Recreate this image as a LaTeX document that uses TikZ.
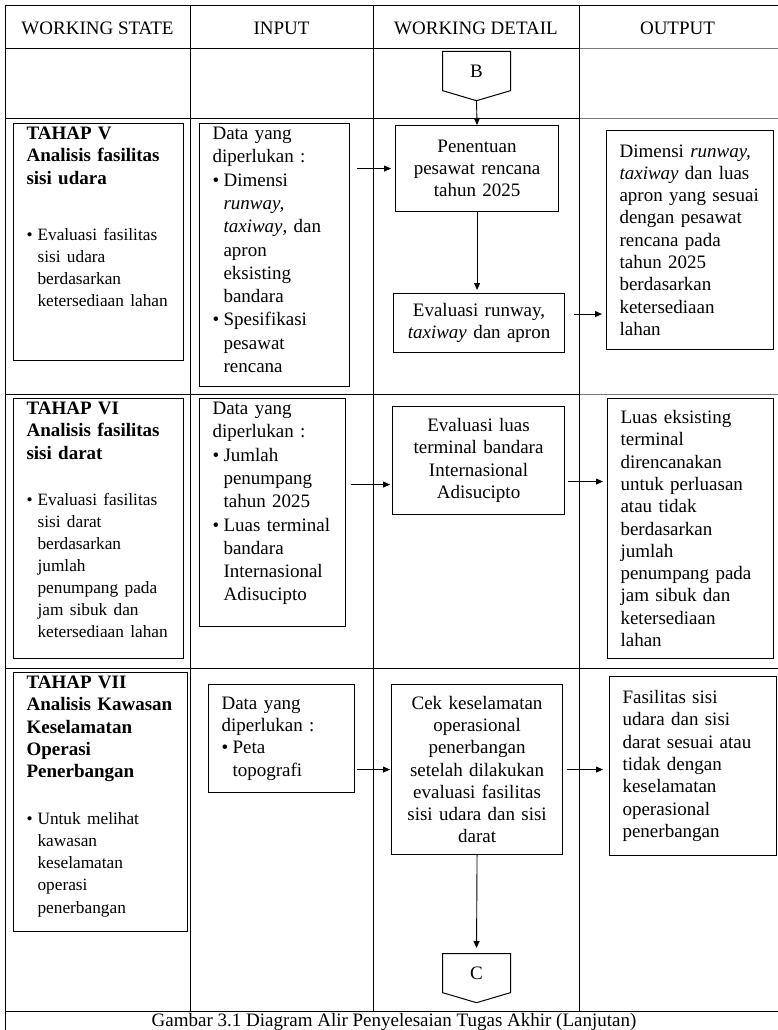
\documentclass[tikz,border=0pt]{standalone}
\usepackage{fontspec}
\setmainfont{Liberation Serif}
\usetikzlibrary{shapes, shapes.symbols, arrows.meta, positioning}
\definecolor{rulegray}{RGB}{120,120,120}
\newcommand{\bul}{\makebox[11pt][l]{\textbullet}}
\newcommand{\ind}{\hspace*{11pt}}
\newcommand{\smallfs}{\fontsize{17.3}{22}\selectfont}

\begin{document}
\begin{tikzpicture}[x=1pt, y=-1pt,
  font=\fontsize{19}{22.3}\selectfont,
  box/.style={draw, line width=1.1pt, anchor=north west, inner xsep=13pt, inner ysep=4pt},
  topbox/.style={box, align=left, text height=12pt},
  inbox/.style={topbox, font=\fontsize{19}{23.3}\selectfont},
  midbox/.style={box, align=center},
  leftbox/.style={box, align=left},
  conn/.style={signal, signal to=south, draw, line width=1pt, signal pointer angle=147, minimum width=68pt, minimum height=41pt, inner sep=0pt, anchor=north},
  arr/.style={-{Triangle[length=7pt,width=6pt]}, line width=0.9pt}]
  \useasboundingbox (0,0) rectangle (778,1030);
  \fill[white] (0,0) rectangle (778,1030);

  \draw[line width=0.9pt] (5,5) -- (778,5) (5,5) -- (5,1030);
  \draw[line width=0.9pt] (5,48) -- (579,48) (5,118) -- (579,118) (5,394) -- (579,394);
  \draw[line width=0.9pt, rulegray] (579,48) -- (778,48) (579,118) -- (778,118) (579,394) -- (778,394);
  \draw[line width=0.9pt] (5,668) -- (778,668) (5,1011) -- (778,1011);
  \draw[line width=0.9pt] (190,5) -- (190,1011) (373,5) -- (373,1011) (579,5) -- (579,1011);

  \node (hstate) at (97.5,28) {WORKING STATE};
  \node (hinput) at (281.5,28) {INPUT};
  \node (hdetail) at (476,28) {WORKING DETAIL};
  \node (houtput) at (677.5,28) {OUTPUT};

  \node[conn] (B) at (476.5,51) {B};

  \node[topbox, text width=144pt, text depth=217pt] (tahapV) at (13,123)
    {{\bfseries TAHAP V\\Analisis fasilitas\\sisi udara}\\[34pt]
     {\smallfs\bul Evaluasi fasilitas\\\ind sisi udara\\\ind berdasarkan\\\ind ketersediaan lahan}};
  \node[inbox, text width=124pt, text depth=243pt] (inV) at (199,123)
    {Data yang\\diperlukan :\\\bul Dimensi\\\ind\textit{runway,}\\\ind\textit{taxiway}, dan\\\ind apron\\\ind eksisting\\\ind bandara\\\bul Spesifikasi\\\ind pesawat\\\ind rencana};
  \node[midbox, text width=137pt, minimum height=86pt] (pen) at (395,125)
    {Penentuan\\pesawat rencana\\tahun 2025};
  \node[midbox, text width=145pt, minimum height=59pt] (evrun) at (393,293)
    {Evaluasi runway,\\\textit{taxiway} dan apron};
  \node[leftbox, text width=141pt, minimum height=219pt] (outV) at (606,130)
    {Dimensi \textit{runway,}\\\textit{taxiway} dan luas\\apron yang sesuai\\dengan pesawat\\rencana pada\\tahun 2025\\berdasarkan\\ketersediaan\\lahan};

  \node[topbox, text width=144pt, text depth=240pt] (tahapVI) at (13,398)
    {{\bfseries TAHAP VI\\Analisis fasilitas\\sisi darat}\\[24pt]
     {\smallfs\bul Evaluasi fasilitas\\\ind sisi darat\\\ind berdasarkan\\\ind jumlah\\\ind penumpang pada\\\ind jam sibuk dan\\\ind ketersediaan lahan}};
  \node[inbox, text width=120pt, text depth=208pt] (inVI) at (199,398)
    {Data yang\\diperlukan :\\\bul Jumlah\\\ind penumpang\\\ind tahun 2025\\\bul Luas terminal\\\ind bandara\\\ind Internasional\\\ind Adisucipto};
  \node[midbox, text width=146pt, minimum height=108pt] (evluas) at (392,406)
    {Evaluasi luas\\terminal bandara\\Internasional\\Adisucipto};
  \node[leftbox, text width=140pt, minimum height=260pt] (outVI) at (607,398)
    {Luas eksisting\\terminal\\direncanakan\\untuk perluasan\\atau tidak\\berdasarkan\\jumlah\\penumpang pada\\jam sibuk dan\\ketersediaan\\lahan};

  \node[topbox, text width=148pt, text depth=239pt] (tahapVII) at (13,672)
    {{\bfseries TAHAP VII\\Analisis Kawasan\\Keselamatan\\Operasi\\Penerbangan}\\[25pt]
     {\smallfs\bul Untuk melihat\\\ind kawasan\\\ind keselamatan\\\ind operasi\\\ind penerbangan}};
  \node[leftbox, text width=120pt, minimum height=108pt] (inVII) at (208,684)
    {Data yang\\diperlukan :\\\bul Peta\\\ind topografi};
  \node[midbox, text width=145pt, minimum height=170pt] (cek) at (391,684)
    {Cek keselamatan\\operasional\\penerbangan\\setelah dilakukan\\evaluasi fasilitas\\sisi udara dan sisi\\darat};
  \node[leftbox, text width=141pt, minimum height=179pt] (outVII) at (609,676)
    {Fasilitas sisi\\udara dan sisi\\darat sesuai atau\\tidak dengan\\keselamatan\\operasional\\penerbangan};

  \node[conn] (C) at (476.5,953) {C};

  \node[anchor=base] (cap) at (394,1026) {Gambar 3.1 Diagram Alir Penyelesaian Tugas Akhir (Lanjutan)};

  \draw[arr] (B.south) -- (pen.north);
  \draw[arr, shorten <=7pt, shorten >=4pt] (inV.east |- pen.west) -- (pen.west);
  \draw[arr, shorten >=3pt] (pen.south) -- (pen.south |- evrun.north);
  \draw[arr, shorten <=9pt, shorten >=4pt] ([yshift=9pt]evrun.east) -- ([yshift=9pt]evrun.east -| outV.west);
  \draw[arr, shorten <=5pt, shorten >=2pt] ([yshift=-24pt]evluas.west -| inVI.east) -- ([yshift=-24pt]evluas.west);
  \draw[arr, shorten <=3pt, shorten >=4pt] ([yshift=-21pt]evluas.east) -- ([yshift=-21pt]evluas.east -| outVI.west);
  \draw[arr, shorten <=2pt, shorten >=1pt] (inVII.east |- cek.west) -- (cek.west);
  \draw[arr, shorten <=4pt, shorten >=6pt] (cek.east) -- (cek.east -| outVII.west);
  \draw[arr, shorten >=5pt] (cek.south) -- (C.north);
\end{tikzpicture}
\end{document}
